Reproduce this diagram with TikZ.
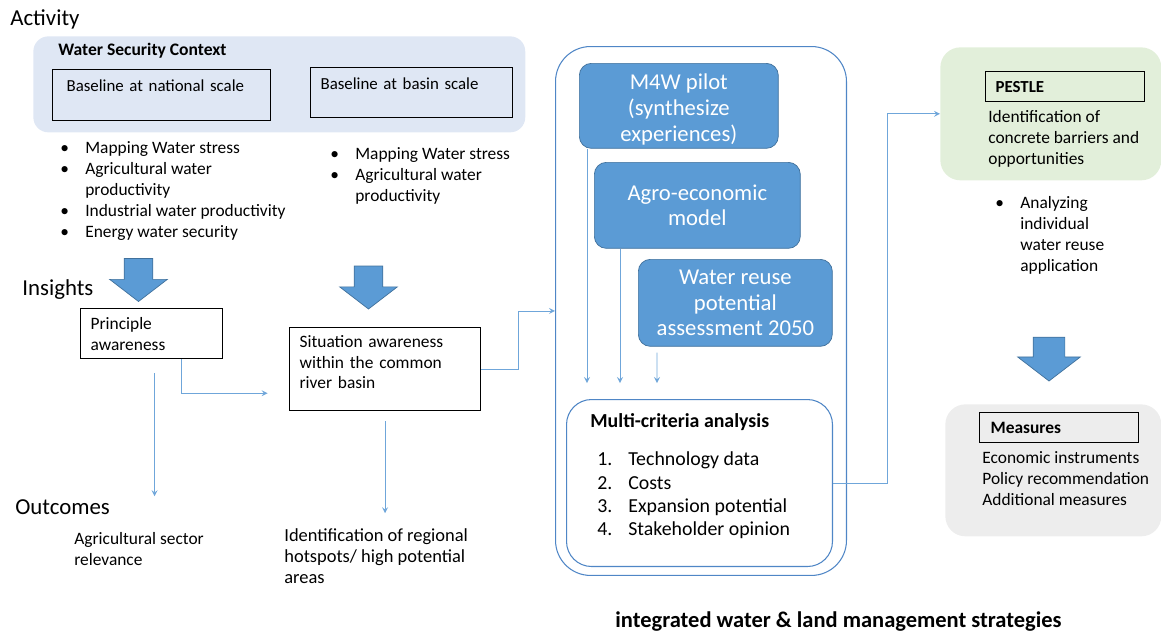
\documentclass[tikz,border=0pt]{standalone}
\usepackage{fontspec}
\setmainfont{Carlito}
\usepackage{tikz}
\usetikzlibrary{shapes,arrows,positioning,calc}

\definecolor{ctxblue}{HTML}{DFE7F4}
\definecolor{pestgreen}{HTML}{E2EFDA}
\definecolor{measgrey}{HTML}{EDEDED}
\definecolor{modelblue}{HTML}{5B9BD5}
\definecolor{modeledge}{HTML}{41719C}
\definecolor{flowblue}{HTML}{6FA6DA}
\definecolor{frameblue}{HTML}{4F86C6}

\begin{document}
\begin{tikzpicture}[
    x=0.02cm, y=-0.02cm,
    every node/.style={font=\fontsize{9.9}{11.9}\selectfont},
    heading/.style={font=\fontsize{13}{15}\selectfont, anchor=west, inner sep=0pt},
    panel/.style={rectangle, rounded corners=0.3cm, anchor=north west, inner sep=0pt},
    topbox/.style={rectangle, draw=black, line width=0.7pt, anchor=north west, align=left, inner ysep=0.18cm, text height=0.25cm, font=\fontsize{9.6}{11.9}\selectfont},
    tagbox/.style={rectangle, draw=black, line width=0.7pt, anchor=north west, align=left, minimum height=0.6cm, inner xsep=0.2cm, text width=2.78cm, font=\fontsize{9.6}{11.9}\selectfont\bfseries},
    block/.style={rectangle, draw=black, line width=0.7pt, anchor=north west, align=left, inner xsep=0.2cm},
    model/.style={rectangle, rounded corners=0.24cm, draw=modeledge, fill=modelblue, text=white, align=center, anchor=north west, font=\fontsize{12.9}{14.7}\selectfont},
    textblock/.style={anchor=north west, inner sep=0pt, align=left},
    flow/.style={draw=flowblue, line width=0.5pt, ->, >=stealth},
    bigarrow/.style={single arrow, shape border rotate=270, draw=modeledge, fill=modelblue, inner sep=0.28cm, minimum height=0.86cm, single arrow head extend=0.29cm, single arrow tip angle=105}
]
\useasboundingbox (0,0) rectangle (1161,633);

\node[heading] (activity) at (10,19) {Activity};
\node[heading] (insights) at (22,290) {Insights};
\node[heading] (outcomes) at (15,507) {Outcomes};

\node[panel, fill=ctxblue, minimum width=9.84cm, minimum height=1.92cm] (context) at (33,36) {};
\node[textblock, font=\fontsize{10}{11.9}\selectfont\bfseries] (contextTitle) at (58,43) {Water Security Context};
\node[topbox, inner xsep=0.28cm, text width=3.8cm, text depth=0.41cm] (national) at (52,69) {Baseline at national scale};
\node[topbox, inner xsep=0.2cm, text width=3.64cm, text depth=0.39cm] (basin) at (310,67) {Baseline at basin scale};

\node[textblock] (nationalList) at (60,139) {\begin{tabular}{@{}p{0.5cm}@{}l@{}}
\textbullet & Mapping Water stress\\
\textbullet & Agricultural water\\
 & productivity\\
\textbullet & Industrial water productivity\\
\textbullet & Energy water security
\end{tabular}};
\node[textblock] (basinList) at (330,145) {\begin{tabular}{@{}p{0.5cm}@{}l@{}}
\textbullet & Mapping Water stress\\
\textbullet & Agricultural water\\
 & productivity
\end{tabular}};

\node[bigarrow] (downA) at (138.5,274.5) {};
\node[bigarrow] (downB) at (368.5,282) {};

\node[block, text width=2.44cm, minimum height=1cm] (principle) at (80,308) {Principle\\awareness};
\node[block, text width=3.42cm, inner ysep=0.15cm, text depth=1.12cm] (situation) at (289,327) {Situation awareness\\within the common\\river basin};

\node[textblock] (agriculture) at (74,532) {Agricultural sector\\relevance};
\node[textblock, font=\fontsize{10.5}{11.9}\selectfont] (hotspots) at (284,528.5) {Identification of regional\\hotspots/ high potential\\areas};

\draw[flow] ([xshift=0.6cm]principle.south) |- ++(86,34);
\draw[flow] ([shift={(3,14)}]principle.south) -- ++(0,123);
\draw[flow] ([yshift=-0.2cm]situation.south) -- ++(0,92);

\node[panel, draw=frameblue, line width=0.6pt, rounded corners=0.7cm, minimum width=5.82cm, minimum height=10.58cm] (analysis) at (555,46) {};
\node[model, minimum width=3.98cm, minimum height=1.7cm, inner ysep=0pt, text height=42.4pt] (pilot) at (579,63) {M4W pilot\\(synthesize\\experiences)};
\node[model, minimum width=4.12cm, minimum height=1.72cm] (agro) at (594,162) {Agro-economic\\model};
\node[model, minimum width=3.88cm, minimum height=1.74cm] (reuse) at (638,259) {Water reuse\\potential\\assessment 2050};
\node[panel, draw=frameblue, line width=0.6pt, fill=white, rounded corners=0.5cm, minimum width=5.32cm, minimum height=3.34cm] (mca) at (566,399) {};
\node[textblock, font=\fontsize{11.3}{13.3}\selectfont\bfseries] (mcaTitle) at (590,413.4) {Multi-criteria analysis};
\node[textblock, font=\fontsize{11.3}{13.3}\selectfont] (criteria) at (597,449) {\begin{tabular}{@{}p{0.62cm}@{}l@{}}
1. & Technology data\\
2. & Costs\\
3. & Expansion potential\\
4. & Stakeholder opinion
\end{tabular}};

\draw[flow] (situation.east) -- ++(37,0) |- (analysis.west);
\draw[flow, shorten >=0.32cm] ([xshift=0.16cm]pilot.south west) -- ([xshift=0.16cm]pilot.south west |- mca.north);
\draw[flow, shorten >=0.32cm] ([xshift=0.52cm]agro.south west) -- ([xshift=0.52cm]agro.south west |- mca.north);
\draw[flow, shorten >=0.32cm] ([shift={(19,6)}]reuse.south west) -- ([xshift=0.38cm]reuse.south west |- mca.north);

\node[panel, fill=pestgreen, rounded corners=0.4cm, minimum width=4.42cm, minimum height=2.66cm] (pestle) at (940,47) {};
\node[tagbox] (pestleTag) at (985,71) {PESTLE};
\node[textblock] (barriers) at (988,110) {Identification of\\concrete barriers and\\opportunities};
\node[textblock] (pestleList) at (995,194) {\begin{tabular}{@{}p{0.5cm}@{}l@{}}
\textbullet & Analyzing\\
 & individual\\
 & water reuse\\
 & application
\end{tabular}};

\draw[flow] (mca.east) -- ++(54,0) |- (pestle.west);

\node[bigarrow, inner sep=0.31cm, single arrow head extend=0.31cm, minimum height=0.84cm] (downC) at (1049,353) {};

\node[panel, fill=measgrey, rounded corners=0.4cm, minimum width=4.32cm, minimum height=2.64cm] (measures) at (945,404) {};
\node[tagbox, inner xsep=0.22cm, text width=2.74cm, font=\fontsize{9.9}{11.9}\selectfont\bfseries] (measuresTag) at (979,412) {Measures};
\node[textblock] (instruments) at (982,451) {Economic instruments\\Policy recommendation\\Additional measures};

\node[font=\fontsize{12.8}{14}\selectfont\bfseries] (strategies) at (838.5,622) {integrated water \& land management strategies};
\end{tikzpicture}
\end{document}
